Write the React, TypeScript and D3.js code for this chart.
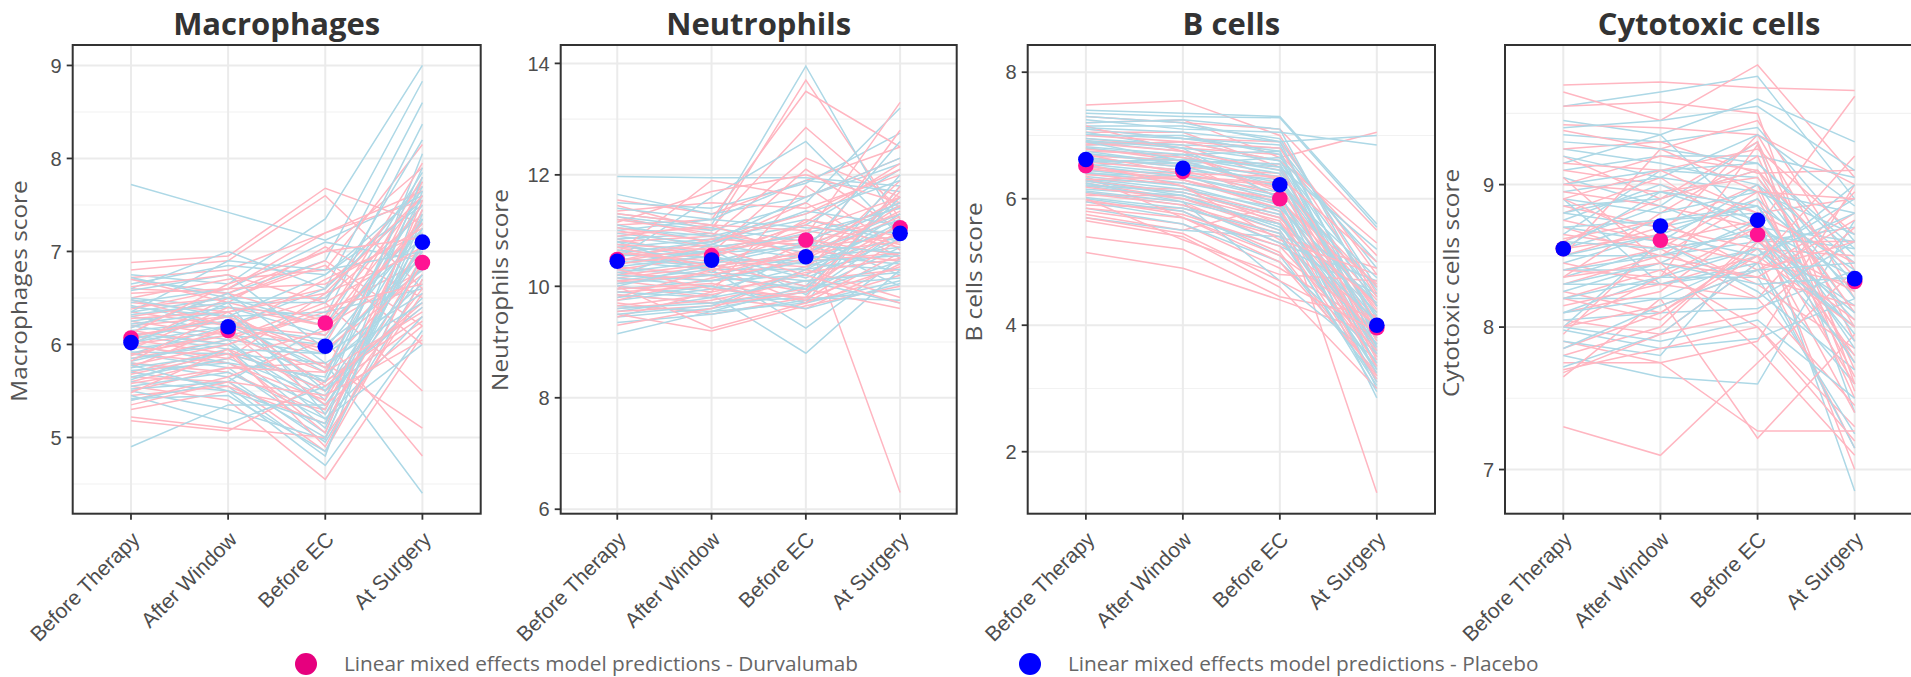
import React from 'react';
import * as d3 from 'd3';

const categories = ['Before Therapy', 'After Window', 'Before EC', 'At Surgery'];

// ---- Macrophages ----
const macroDomain = [4.18, 9.22];
const macroTicks = [5, 6, 7, 8, 9];
const macroMinor = [4.5, 5.5, 6.5, 7.5, 8.5];
const macroMeanDurva = [6.07, 6.15, 6.23, 6.88];
const macroMeanPlacebo = [6.02, 6.19, 5.98, 7.1];
const macroDurva = [
  [6.88, 6.95, 7.68, 7.3], [6.8, 6.9, 7.6, 6.6], [6.72, 6.8, 7.2, 7.55], [6.6, 6.55, 7.0, 7.9],
  [6.5, 6.7, 6.8, 8.15], [6.45, 6.35, 6.6, 7.7], [6.4, 6.5, 6.9, 6.2], [6.35, 6.2, 6.5, 7.4],
  [6.3, 6.45, 7.05, 6.5], [6.25, 6.1, 6.3, 7.6], [6.2, 6.3, 5.9, 7.0], [6.15, 6.0, 6.35, 6.9],
  [6.1, 6.25, 6.0, 7.8], [6.05, 5.9, 5.6, 6.4], [6.0, 6.15, 6.7, 7.2], [5.95, 6.4, 6.2, 6.8],
  [5.9, 5.8, 5.4, 7.1], [5.85, 6.05, 6.45, 5.5], [5.8, 5.7, 5.25, 6.6], [5.75, 6.2, 6.1, 7.35],
  [5.7, 5.95, 5.5, 6.25], [5.65, 5.6, 4.85, 6.7], [5.6, 5.85, 6.55, 7.0], [5.55, 5.4, 4.55, 6.1],
  [5.5, 5.75, 5.8, 5.1], [5.45, 5.55, 5.15, 6.95], [5.4, 5.65, 6.05, 4.8], [5.3, 5.5, 5.3, 7.45],
  [5.22, 5.1, 5.0, 6.55], [5.18, 5.07, 5.6, 6.3], [6.55, 6.6, 7.2, 7.65], [6.0, 6.5, 6.85, 6.0],
  [5.9, 6.1, 5.7, 7.75],
  [6.7, 6.45, 6.2, 7.5], [6.62, 6.75, 6.45, 7.05], [6.48, 6.2, 5.95, 6.75], [6.38, 6.6, 6.65, 7.25],
  [6.28, 6.35, 5.75, 6.85], [6.18, 6.55, 6.25, 7.95], [6.08, 6.3, 5.55, 6.45], [5.98, 5.85, 6.15, 7.3],
  [5.88, 6.15, 5.35, 6.2], [5.78, 6.0, 6.4, 6.65], [5.68, 5.9, 5.05, 7.55], [5.58, 5.75, 5.7, 6.35],
  [5.48, 5.95, 4.9, 6.9], [5.35, 5.6, 5.45, 6.05], [6.12, 6.65, 7.0, 7.15], [5.82, 6.35, 6.55, 7.6],
];
const macroPlacebo = [
  [7.72, 7.42, 7.12, 7.6], [6.75, 6.65, 7.35, 9.0], [6.7, 6.55, 6.9, 8.83], [6.65, 6.85, 6.75, 7.5],
  [6.6, 7.0, 6.6, 8.6], [6.5, 6.4, 6.3, 8.37], [6.45, 6.6, 7.1, 6.9], [6.4, 6.3, 5.4, 8.05],
  [6.35, 6.5, 6.5, 7.75], [6.3, 6.15, 5.6, 7.7], [6.25, 6.4, 6.1, 7.3], [6.2, 6.05, 5.9, 6.95],
  [6.15, 6.25, 5.7, 7.6], [6.1, 5.95, 5.1, 7.4], [6.05, 6.3, 6.35, 6.6], [6.0, 5.8, 5.3, 7.2],
  [5.95, 6.1, 6.0, 6.8], [5.9, 5.75, 5.05, 7.45], [5.85, 6.0, 5.5, 6.5], [5.8, 5.65, 4.95, 6.7],
  [5.75, 5.9, 5.8, 4.4], [5.7, 5.55, 4.8, 7.65], [5.65, 5.85, 5.45, 7.0], [5.6, 5.5, 4.7, 6.15],
  [5.55, 5.7, 5.2, 6.0], [5.5, 5.3, 4.98, 7.35], [5.45, 5.15, 5.55, 6.4], [5.4, 5.6, 6.2, 7.15],
  [4.9, 5.35, 5.35, 6.85], [6.35, 6.9, 6.8, 7.0], [5.9, 6.2, 6.6, 7.55], [6.0, 6.45, 5.25, 7.1],
  [6.72, 6.5, 6.2, 7.85], [6.58, 6.75, 5.95, 7.25], [6.42, 6.2, 5.75, 6.65], [6.32, 6.45, 6.45, 8.2],
  [6.22, 6.35, 5.5, 7.05], [6.12, 6.0, 5.35, 6.75], [6.02, 6.2, 6.05, 7.5], [5.92, 5.9, 5.6, 7.35],
  [5.82, 6.05, 5.2, 6.3], [5.72, 5.8, 5.65, 7.9], [5.62, 5.95, 5.9, 6.55], [5.52, 5.6, 5.0, 7.25],
  [5.42, 5.45, 4.85, 6.95], [6.48, 6.3, 6.75, 7.65], [6.18, 6.55, 5.8, 6.45], [5.78, 5.5, 5.15, 7.8],
];

// ---- Neutrophils ----
const neutroDomain = [5.92, 14.33];
const neutroTicks = [6, 8, 10, 12, 14];
const neutroMinor = [7, 9, 11, 13];
const neutroMeanDurva = [10.48, 10.55, 10.83, 11.05];
const neutroMeanPlacebo = [10.45, 10.47, 10.53, 10.95];
const neutroDurva = [
  [11.55, 11.3, 11.9, 12.5], [11.45, 11.0, 13.7, 11.2], [11.35, 11.5, 11.4, 12.0], [11.25, 10.9, 12.3, 11.6],
  [11.1, 11.2, 13.5, 12.5], [11.0, 10.7, 10.9, 13.3], [10.95, 11.05, 12.85, 11.4], [10.85, 10.5, 11.15, 12.2],
  [10.8, 10.9, 10.6, 10.8], [10.7, 10.6, 12.1, 11.0], [10.65, 10.3, 10.3, 11.9], [10.55, 10.75, 11.5, 10.5],
  [10.5, 10.4, 10.95, 6.3], [10.45, 10.85, 10.75, 11.3], [10.35, 10.2, 9.9, 11.7], [10.3, 10.55, 11.0, 10.7],
  [10.25, 10.1, 10.5, 12.8], [10.15, 10.35, 9.7, 10.2], [10.1, 9.9, 10.2, 11.1], [10.05, 10.25, 11.2, 10.9],
  [10.0, 9.8, 9.6, 10.4], [9.9, 10.0, 10.8, 11.5], [9.85, 9.7, 9.95, 9.6], [9.75, 10.15, 10.45, 10.6],
  [9.7, 9.5, 9.8, 11.8], [9.6, 9.75, 10.1, 10.3], [9.5, 9.2, 9.65, 10.0], [9.45, 9.9, 11.8, 10.65],
  [9.3, 9.6, 10.3, 9.8], [11.15, 11.7, 12.0, 11.5], [10.6, 11.9, 11.6, 12.3], [10.0, 9.25, 9.7, 10.6],
  [11.3, 11.1, 11.0, 11.6], [11.2, 10.95, 10.7, 10.9], [11.05, 10.8, 11.3, 12.1], [10.9, 11.1, 10.5, 11.25],
  [10.75, 10.65, 10.85, 10.55], [10.6, 10.45, 10.35, 11.45], [10.4, 10.6, 11.1, 10.75], [10.2, 10.4, 10.0, 11.0],
  [10.1, 10.2, 10.65, 10.45], [9.95, 10.05, 9.75, 10.85], [9.8, 10.3, 10.55, 11.35], [9.65, 9.85, 10.25, 10.5],
  [9.55, 9.65, 9.9, 11.15], [10.3, 9.95, 9.8, 10.35], [10.7, 10.35, 10.6, 11.6], [10.45, 10.7, 10.2, 9.7],
];
const neutroPlacebo = [
  [11.97, 11.95, 11.95, 11.8], [11.65, 11.3, 11.6, 12.2], [11.5, 11.4, 11.85, 12.75], [11.3, 11.1, 13.95, 11.0],
  [11.2, 11.0, 11.5, 13.2], [11.1, 10.8, 11.1, 12.1], [11.0, 11.2, 11.9, 11.7], [10.9, 10.7, 10.9, 10.2],
  [10.85, 10.95, 10.6, 11.3], [10.75, 10.5, 10.45, 11.05], [10.7, 10.85, 11.2, 10.8], [10.6, 10.4, 10.0, 12.0],
  [10.55, 10.6, 10.7, 11.45], [10.45, 10.3, 10.3, 10.6], [10.4, 10.65, 9.85, 11.0], [10.3, 10.2, 10.55, 10.4],
  [10.25, 10.45, 10.8, 10.0], [10.15, 10.0, 9.7, 11.8], [10.1, 10.3, 9.25, 10.5], [10.0, 9.85, 8.8, 10.3],
  [9.95, 10.1, 10.2, 11.3], [9.85, 9.7, 9.8, 9.75], [9.75, 9.95, 10.35, 10.9], [9.65, 9.55, 10.0, 10.15],
  [9.55, 9.8, 10.65, 12.6], [9.45, 9.6, 9.9, 10.7], [9.35, 9.5, 9.75, 9.95], [9.15, 9.55, 9.7, 10.1],
  [10.5, 11.6, 12.6, 10.9], [10.8, 10.25, 10.1, 9.7], [10.2, 10.75, 11.35, 11.1],
  [11.4, 11.2, 11.05, 10.95], [11.25, 11.05, 10.8, 11.5], [11.05, 10.9, 11.3, 11.9], [10.95, 10.75, 10.5, 10.7],
  [10.8, 10.6, 10.95, 11.4], [10.65, 10.5, 10.4, 10.3], [10.5, 10.35, 10.6, 11.2], [10.35, 10.55, 10.15, 10.85],
  [10.2, 10.1, 10.45, 10.55], [10.05, 10.2, 9.95, 11.6], [9.9, 9.8, 10.1, 10.25], [9.8, 10.0, 9.6, 10.05],
  [9.6, 9.7, 9.9, 10.45], [9.5, 9.65, 10.3, 11.15], [10.6, 10.8, 11.6, 12.3], [10.0, 10.4, 10.75, 10.6],
];

// ---- B cells ----
const bcellDomain = [1.02, 8.43];
const bcellTicks = [2, 4, 6, 8];
const bcellMinor = [3, 5, 7];
const bcellMeanDurva = [6.52, 6.43, 6.0, 3.96];
const bcellMeanPlacebo = [6.62, 6.48, 6.22, 4.0];
const bcellDurva = [
  [7.48, 7.55, 7.0, 4.5], [7.3, 7.2, 7.1, 5.5], [7.2, 7.25, 6.65, 7.05], [7.1, 6.95, 6.9, 4.8],
  [7.05, 7.05, 6.5, 3.9], [6.95, 6.8, 6.7, 5.1], [6.9, 6.85, 6.3, 4.2], [6.8, 6.6, 6.55, 3.6],
  [6.75, 6.7, 6.1, 4.4], [6.65, 6.5, 6.4, 3.3], [6.6, 6.55, 5.9, 4.0], [6.5, 6.35, 6.2, 4.6],
  [6.45, 6.4, 5.8, 3.5], [6.4, 6.2, 5.6, 3.8], [6.3, 6.25, 6.0, 4.3], [6.25, 6.0, 5.5, 3.4],
  [6.2, 6.15, 5.75, 3.1], [6.1, 5.95, 5.3, 4.1], [6.05, 6.05, 5.65, 3.7], [5.95, 5.8, 5.15, 3.2],
  [5.9, 5.85, 5.4, 4.9], [5.8, 5.6, 4.9, 3.95], [5.75, 5.5, 5.9, 1.35], [5.65, 5.4, 4.6, 3.0],
  [5.4, 5.2, 4.45, 4.15], [5.15, 4.9, 4.4, 3.85], [6.85, 6.9, 6.6, 5.3], [7.15, 6.75, 6.0, 3.65],
  [6.35, 5.7, 5.0, 3.25], [6.0, 5.35, 4.8, 4.7],
  [7.0, 6.9, 6.8, 4.45], [6.88, 6.75, 6.45, 4.05], [6.78, 6.65, 6.3, 3.75], [6.68, 6.6, 6.15, 4.25],
  [6.58, 6.45, 6.05, 3.55], [6.48, 6.3, 5.95, 4.65], [6.38, 6.3, 5.85, 3.35], [6.28, 6.1, 5.7, 3.95],
  [6.18, 6.0, 5.6, 4.35], [6.08, 5.9, 5.45, 3.15], [5.98, 5.75, 5.25, 3.6], [5.85, 5.7, 5.1, 4.0],
  [6.55, 6.2, 5.35, 4.8], [6.7, 6.4, 6.35, 5.0], [6.3, 6.35, 6.25, 3.45], [5.7, 5.45, 4.7, 3.9],
];
const bcellPlacebo = [
  [7.4, 7.35, 7.3, 5.6], [7.35, 7.3, 7.28, 5.55], [7.3, 7.2, 6.9, 7.0], [7.25, 7.1, 7.05, 6.85],
  [7.15, 7.15, 6.95, 4.6], [7.1, 6.95, 6.85, 4.0], [7.0, 7.0, 6.7, 3.5], [6.95, 6.85, 6.8, 4.9],
  [6.9, 6.75, 6.5, 3.8], [6.85, 6.9, 6.6, 4.3], [6.8, 6.65, 6.4, 3.2], [6.7, 6.6, 6.55, 4.1],
  [6.65, 6.5, 6.2, 3.6], [6.6, 6.45, 6.3, 4.45], [6.55, 6.4, 6.1, 3.0], [6.45, 6.3, 5.9, 3.9],
  [6.4, 6.35, 6.0, 2.85], [6.35, 6.2, 5.8, 3.4], [6.3, 6.1, 5.7, 4.2], [6.2, 6.0, 5.6, 3.7],
  [6.15, 6.05, 5.5, 3.3], [6.1, 5.9, 5.3, 4.7], [6.0, 5.8, 5.1, 3.15], [5.95, 5.7, 5.25, 4.5],
  [5.85, 5.6, 5.0, 3.55], [5.7, 5.5, 5.4, 3.05], [6.75, 6.55, 6.65, 5.0], [7.05, 6.8, 6.0, 4.05],
  [6.5, 6.7, 6.75, 3.75], [6.25, 5.95, 4.7, 3.45],
  [7.2, 7.25, 7.1, 4.3], [7.12, 7.05, 6.9, 3.95], [7.02, 6.95, 6.75, 3.65], [6.92, 6.8, 6.6, 4.55],
  [6.82, 6.7, 6.45, 3.85], [6.72, 6.55, 6.35, 3.35], [6.62, 6.55, 6.25, 4.15], [6.52, 6.35, 6.05, 3.55],
  [6.42, 6.25, 5.95, 3.1], [6.32, 6.15, 5.85, 4.35], [6.22, 6.1, 5.75, 3.7], [6.12, 5.95, 5.6, 3.25],
  [6.02, 5.85, 5.45, 2.95], [6.9, 6.6, 6.2, 4.75], [6.58, 6.62, 6.5, 5.2], [6.28, 6.05, 5.55, 4.05],
];

// ---- Cytotoxic cells ----
const cytoDomain = [6.69, 9.98];
const cytoTicks = [7, 8, 9];
const cytoMinor = [7.5, 8.5, 9.5];
const cytoMeanDurva = [8.55, 8.61, 8.65, 8.32];
const cytoMeanPlacebo = [8.55, 8.71, 8.75, 8.34];
const cytoDurva = [
  [9.7, 9.72, 9.68, 9.66], [9.65, 9.45, 9.84, 9.05], [9.55, 9.58, 9.5, 7.6], [9.42, 9.4, 9.35, 9.0],
  [9.38, 9.25, 9.45, 8.4], [9.25, 9.3, 9.08, 9.1], [9.2, 8.9, 9.3, 7.9], [9.1, 9.0, 8.8, 8.9],
  [9.0, 9.2, 9.1, 8.0], [8.95, 8.85, 8.7, 9.62], [8.85, 8.7, 9.0, 7.5], [8.8, 9.05, 8.6, 8.6],
  [8.7, 8.5, 8.9, 7.75], [8.62, 8.75, 8.4, 8.8], [8.55, 8.65, 9.35, 8.2], [8.45, 8.3, 8.5, 7.15],
  [8.4, 8.55, 8.2, 8.95], [8.35, 8.8, 9.2, 7.7], [8.25, 8.1, 8.55, 8.5], [8.2, 8.4, 8.0, 7.3],
  [8.1, 8.25, 8.75, 7.0], [8.05, 7.95, 8.45, 8.3], [7.95, 8.6, 8.3, 7.85], [7.9, 7.75, 7.9, 9.0],
  [7.8, 8.0, 8.65, 7.4], [7.75, 7.75, 7.27, 7.27], [7.68, 7.95, 8.1, 8.7], [7.65, 8.2, 7.22, 7.95],
  [7.3, 7.1, 7.75, 8.4], [8.5, 9.25, 8.95, 7.65], [9.05, 8.45, 8.35, 8.15], [8.0, 8.35, 9.28, 7.55],
  [9.15, 9.1, 9.25, 8.65], [9.0, 8.95, 9.05, 8.1], [8.9, 9.1, 8.8, 8.45], [8.75, 8.6, 8.75, 7.8],
  [8.65, 8.55, 8.95, 8.9], [8.5, 8.7, 8.55, 8.05], [8.4, 8.35, 8.7, 7.6], [8.3, 8.5, 8.35, 8.75],
  [8.2, 8.05, 8.6, 8.25], [8.15, 8.3, 8.2, 7.45], [8.0, 8.15, 8.4, 8.6], [7.85, 8.1, 8.5, 8.0],
  [7.7, 7.85, 8.0, 7.2], [8.6, 8.9, 9.1, 8.35], [8.9, 8.6, 8.45, 9.2], [8.35, 8.45, 7.85, 7.1],
];
const cytoPlacebo = [
  [9.55, 9.65, 9.76, 8.9], [9.45, 9.35, 9.6, 9.3], [9.35, 9.3, 9.4, 8.6], [9.25, 9.15, 9.0, 8.1],
  [9.1, 9.2, 9.2, 9.05], [9.05, 8.85, 9.3, 7.4], [8.95, 9.05, 8.95, 8.8], [8.85, 8.9, 9.1, 8.3],
  [8.8, 8.7, 8.85, 7.95], [8.75, 9.0, 8.7, 8.6], [8.7, 8.6, 9.0, 8.45], [8.6, 8.85, 8.6, 8.15],
  [8.55, 8.75, 8.8, 6.85], [8.5, 8.5, 8.6, 8.7], [8.45, 8.65, 8.9, 8.25], [8.4, 8.4, 8.55, 7.8],
  [8.35, 8.55, 8.65, 8.55], [8.3, 8.3, 8.4, 7.6], [8.25, 8.45, 8.75, 8.05], [8.2, 8.2, 8.5, 8.9],
  [8.1, 8.35, 8.35, 7.25], [8.05, 8.1, 8.13, 8.4], [7.98, 7.85, 7.92, 8.2], [7.9, 7.8, 8.6, 8.0],
  [7.8, 7.65, 7.6, 8.75], [7.72, 7.95, 8.45, 7.15], [9.15, 9.35, 8.7, 8.35], [8.65, 9.1, 9.15, 8.5],
  [8.0, 8.6, 8.25, 7.7], [8.9, 8.3, 8.45, 9.0],
  [9.3, 9.25, 9.15, 8.55], [9.2, 9.05, 9.35, 8.85], [9.0, 9.1, 9.05, 8.2], [8.9, 8.8, 8.95, 8.65],
  [8.8, 8.95, 8.75, 7.9], [8.7, 8.75, 8.85, 8.4], [8.6, 8.55, 8.65, 8.1], [8.5, 8.65, 8.5, 8.8],
  [8.4, 8.5, 8.7, 7.75], [8.3, 8.45, 8.3, 8.35], [8.2, 8.35, 8.55, 8.0], [8.1, 8.2, 8.2, 8.6],
  [8.0, 7.9, 8.05, 7.5], [7.85, 8.15, 8.4, 8.45], [9.4, 9.45, 9.55, 9.1], [8.55, 8.95, 8.85, 7.85],
];

const legendLabels = [
  'Linear mixed effects model predictions - Durvalumab',
  'Linear mixed effects model predictions - Placebo',
];

const PINK_LINE = '#ffb6c1';
const BLUE_LINE = '#add8e6';
const PINK_PT = '#ff1493';
const BLUE_PT = '#0000ff';

const panels = [
  { title: 'Macrophages', yTitle: 'Macrophages score', left: 72.7, right: 480.7, yTitleMid: 291, domain: macroDomain, ticks: macroTicks, minor: macroMinor, durva: macroDurva, placebo: macroPlacebo, meanD: macroMeanDurva, meanP: macroMeanPlacebo },
  { title: 'Neutrophils', yTitle: 'Neutrophils score', left: 560.7, right: 956.7, yTitleMid: 290, domain: neutroDomain, ticks: neutroTicks, minor: neutroMinor, durva: neutroDurva, placebo: neutroPlacebo, meanD: neutroMeanDurva, meanP: neutroMeanPlacebo },
  { title: 'B cells', yTitle: 'B cells score', left: 1027.7, right: 1435, yTitleMid: 272, domain: bcellDomain, ticks: bcellTicks, minor: bcellMinor, durva: bcellDurva, placebo: bcellPlacebo, meanD: bcellMeanDurva, meanP: bcellMeanPlacebo },
  { title: 'Cytotoxic cells', yTitle: 'Cytotoxic cells score', left: 1505, right: 1913, yTitleMid: 283, domain: cytoDomain, ticks: cytoTicks, minor: cytoMinor, durva: cytoDurva, placebo: cytoPlacebo, meanD: cytoMeanDurva, meanP: cytoMeanPlacebo },
];

const TOP = 45;
const BOTTOM = 513.7;

const Panel = ({ p }: { p: any }) => {
  const x = d3.scalePoint<string>().domain(categories).range([p.left, p.right]).padding(0.6);
  const y = d3.scaleLinear().domain(p.domain).range([BOTTOM, TOP]);
  const line = d3.line<number | null>()
    .defined(d => d != null)
    .x((_, i) => x(categories[i]) as number)
    .y(d => y(d as number));

  // interleave the two arms so neither colour sits wholly on top
  const n = Math.max(p.durva.length, p.placebo.length);
  const order: { vals: number[]; color: string }[] = [];
  for (let i = 0; i < n; i++) {
    if (p.durva[i]) order.push({ vals: p.durva[i], color: PINK_LINE });
    if (p.placebo[i]) order.push({ vals: p.placebo[i], color: BLUE_LINE });
  }
  const maxChars = d3.max(p.ticks, (t: number) => String(t).length) as number;
  const yTitleX = p.left - 39 - 7 * maxChars;
  const midX = (p.left + p.right) / 2;

  return (
    <g>
      <rect x={p.left} y={TOP} width={p.right - p.left} height={BOTTOM - TOP} fill="#fff" />
      {p.minor.map((t: number) => (
        <line key={'mn' + t} x1={p.left} x2={p.right} y1={y(t)} y2={y(t)} stroke="#f2f2f2" strokeWidth={1.1} />
      ))}
      {p.ticks.map((t: number) => (
        <line key={'mj' + t} x1={p.left} x2={p.right} y1={y(t)} y2={y(t)} stroke="#ebebeb" strokeWidth={2} />
      ))}
      {categories.map(c => (
        <line key={'vg' + c} x1={x(c)} x2={x(c)} y1={TOP} y2={BOTTOM} stroke="#ebebeb" strokeWidth={2} />
      ))}
      {order.map((o, i) => (
        <path key={'l' + i} d={line(o.vals) as string} fill="none" stroke={o.color} strokeWidth={1.5} />
      ))}
      {p.meanD.map((v: number, i: number) => (
        <circle key={'pd' + i} cx={x(categories[i])} cy={y(v)} r={7.8} fill={PINK_PT} />
      ))}
      {p.meanP.map((v: number, i: number) => (
        <circle key={'pp' + i} cx={x(categories[i])} cy={y(v)} r={7.8} fill={BLUE_PT} />
      ))}
      <rect x={p.left} y={TOP} width={p.right - p.left} height={BOTTOM - TOP} fill="none" stroke="#333" strokeWidth={2} />
      {p.ticks.map((t: number) => (
        <g key={'yt' + t}>
          <line x1={p.left - 6} x2={p.left} y1={y(t)} y2={y(t)} stroke="#333" strokeWidth={1.8} />
          <text x={p.left - 11} y={y(t)} dy="0.36em" textAnchor="end" fontFamily="Liberation Sans, Arial, sans-serif" fontSize={20} fill="#4d4d4d">{t}</text>
        </g>
      ))}
      {categories.map(c => (
        <g key={'xt' + c}>
          <line x1={x(c)} x2={x(c)} y1={BOTTOM} y2={BOTTOM + 6} stroke="#333" strokeWidth={1.8} />
          <text transform={`translate(${(x(c) as number) + 10},${BOTTOM + 27}) rotate(-45)`} textAnchor="end" fontFamily="Liberation Sans, Arial, sans-serif" fontSize={21} fill="#4d4d4d">{c}</text>
        </g>
      ))}
      <text transform={`translate(${yTitleX},${p.yTitleMid}) rotate(-90) scale(1.16,1)`} textAnchor="middle" fontFamily="Open Sans, sans-serif" fontSize={21} fill="#555">{p.yTitle}</text>
      <text x={midX} y={35} textAnchor="middle" fontFamily="Open Sans, sans-serif" fontWeight={700} fontSize={31} fill="#333">{p.title}</text>
    </g>
  );
};

const App = () => {
  const legendX = [306, 1030];
  const legendColors = ['#e6007e', BLUE_PT];
  return (
    <svg width={1911} height={677} style={{ position: 'absolute', left: 0, top: 0, background: '#fff' }}>
      <rect width={1911} height={677} fill="#fff" />
      {panels.map(p => <Panel key={p.title} p={p} />)}
      {legendLabels.map((l, i) => (
        <g key={l}>
          <circle cx={legendX[i]} cy={664} r={11} fill={legendColors[i]} />
          <text x={legendX[i] + 38} y={664} dy="0.35em" fontFamily="Open Sans, sans-serif" fontSize={20.8} fill="#666">{l}</text>
        </g>
      ))}
    </svg>
  );
};

export default App;
